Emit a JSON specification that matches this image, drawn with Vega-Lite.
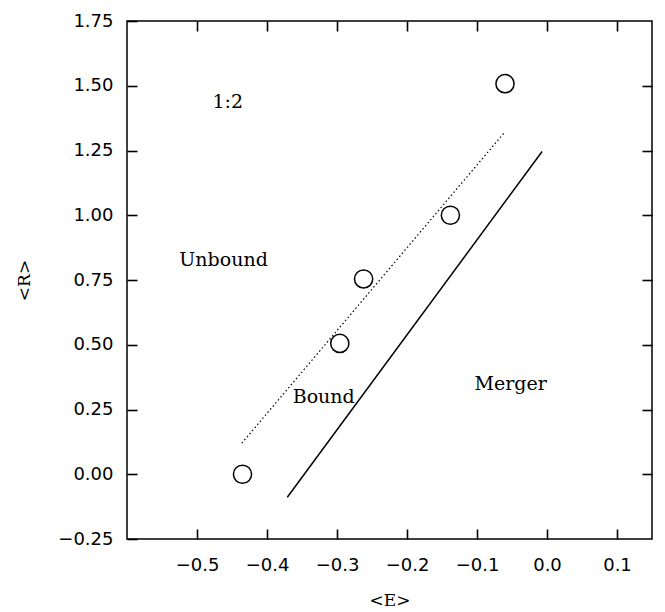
{
  "$schema": "https://vega.github.io/schema/vega-lite/v6.json",
  "autosize": {"type": "none"},
  "width": 525,
  "height": 518,
  "padding": {"left": 127, "top": 21, "right": 13, "bottom": 73},
  "background": "white",
  "config": {
    "view": {"stroke": "black", "strokeWidth": 1.5},
    "axis": {
      "domain": false,
      "grid": false,
      "zindex": 1,
      "ticks": true,
      "tickColor": "#000000",
      "tickWidth": 1.6,
      "labelFont": "DejaVu Sans",
      "labelFontSize": 18,
      "labelColor": "black",
      "titleFont": "DejaVu Serif",
      "titleFontSize": 17,
      "titleFontWeight": "normal",
      "titleColor": "black"
    }
  },
  "datasets": {
    "points": [
      {"E": -0.435, "R": 0.0},
      {"E": -0.296, "R": 0.505},
      {"E": -0.262, "R": 0.754},
      {"E": -0.138, "R": 1.0},
      {"E": -0.060, "R": 1.508}
    ],
    "dotted": [
      {"E": -0.436, "R": 0.12},
      {"E": -0.060, "R": 1.322}
    ],
    "solid": [
      {"E": -0.371, "R": -0.089},
      {"E": -0.007, "R": 1.246}
    ],
    "labels": [
      {"E": -0.456, "R": 1.416, "label": "1:2"},
      {"E": -0.462, "R": 0.805, "label": "Unbound"},
      {"E": -0.319, "R": 0.274, "label": "Bound"},
      {"E": -0.052, "R": 0.326, "label": "Merger"}
    ]
  },
  "resolve": {"axis": {"x": "independent", "y": "independent"}},
  "layer": [
    {
      "data": {"name": "points"},
      "mark": {"type": "point", "shape": "circle", "size": 330, "stroke": "black", "strokeWidth": 1.5, "fill": "white", "filled": false, "opacity": 1},
      "encoding": {
        "x": {"field": "E", "type": "quantitative",
              "scale": {"domain": [-0.6, 0.15], "nice": false, "zero": false},
              "axis": {"orient": "bottom", "title": "<E>", "values": [-0.5, -0.4, -0.3, -0.2, -0.1, 0.0, 0.1], "format": ".1f", "tickSize": -10, "labelPadding": 27, "titlePadding": 18, "labelFlush": false}},
        "y": {"field": "R", "type": "quantitative",
              "scale": {"domain": [-0.25, 1.75], "nice": false, "zero": false},
              "axis": {"orient": "left", "title": "<R>", "values": [-0.25, 0, 0.25, 0.5, 0.75, 1.0, 1.25, 1.5, 1.75], "format": ".2f", "tickSize": 10, "offset": -10, "labelPadding": 14, "titlePadding": 24, "labelFlush": false, "labelOverlap": false}}
      }
    },
    {
      "data": {"name": "dotted"},
      "mark": {"type": "line", "stroke": "black", "strokeWidth": 1.2, "strokeDash": [1.5, 2.5]},
      "encoding": {
        "x": {"field": "E", "type": "quantitative",
              "scale": {"domain": [-0.6, 0.15], "nice": false, "zero": false},
              "axis": {"orient": "top", "title": null, "labels": false, "tickSize": 10, "offset": -10, "values": [-0.5, -0.4, -0.3, -0.2, -0.1, 0.0, 0.1]}},
        "y": {"field": "R", "type": "quantitative",
              "scale": {"domain": [-0.25, 1.75], "nice": false, "zero": false},
              "axis": {"orient": "right", "title": null, "labels": false, "tickSize": -10, "values": [0, 0.25, 0.5, 0.75, 1.0, 1.25, 1.5]}}
      }
    },
    {
      "data": {"name": "solid"},
      "mark": {"type": "line", "stroke": "black", "strokeWidth": 1.5},
      "encoding": {
        "x": {"field": "E", "type": "quantitative", "scale": {"domain": [-0.6, 0.15], "nice": false, "zero": false}, "axis": null},
        "y": {"field": "R", "type": "quantitative", "scale": {"domain": [-0.25, 1.75], "nice": false, "zero": false}, "axis": null}
      }
    },
    {
      "data": {"name": "labels"},
      "mark": {"type": "text", "font": "DejaVu Serif", "fontSize": 19, "color": "black", "align": "center", "baseline": "alphabetic"},
      "encoding": {
        "x": {"field": "E", "type": "quantitative", "scale": {"domain": [-0.6, 0.15], "nice": false, "zero": false}, "axis": null},
        "y": {"field": "R", "type": "quantitative", "scale": {"domain": [-0.25, 1.75], "nice": false, "zero": false}, "axis": null},
        "text": {"field": "label", "type": "nominal"}
      }
    }
  ]
}
